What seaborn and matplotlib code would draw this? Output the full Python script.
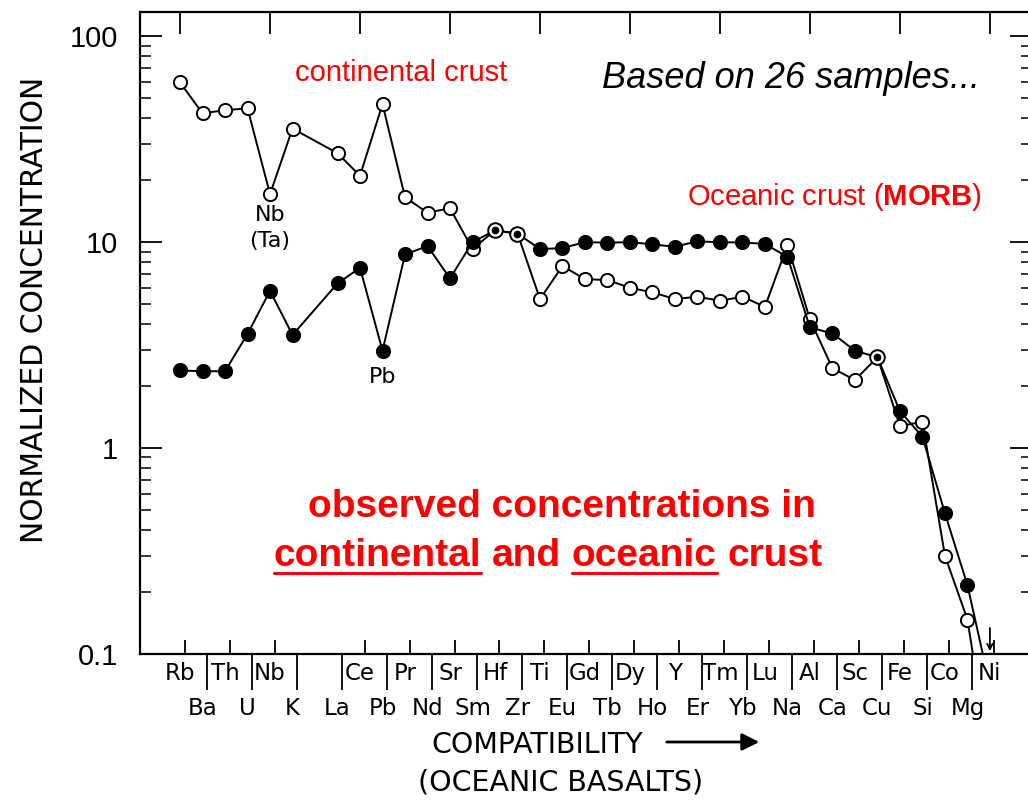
import numpy as np
import matplotlib
matplotlib.use("Agg")
import matplotlib.pyplot as plt
import seaborn as sns
from matplotlib.ticker import LogLocator, NullFormatter
from matplotlib.transforms import IdentityTransform
from matplotlib.lines import Line2D

# Element order along the compatibility axis; "" is the unused slot after K
slots = ["Rb", "Ba", "Th", "U", "Nb", "K", "", "La", "Ce", "Pb", "Pr", "Nd", "Sr",
         "Sm", "Hf", "Zr", "Ti", "Eu", "Gd", "Tb", "Dy", "Ho", "Y", "Er", "Tm", "Yb",
         "Lu", "Na", "Al", "Ca", "Sc", "Cu", "Fe", "Si", "Co", "Mg", "Ni"]
elements = [e for e in slots if e]

# Normalized concentrations, one value per element above
continental = [59.6, 42.2, 43.7, 44.6, 17.1, 35.6, 27.0, 21.0, 46.8, 16.5, 13.9, 14.6,
               9.25, 11.4, 11.0, 5.29, 7.65, 6.61, 6.54, 6.0, 5.70, 5.29, 5.43, 5.19,
               5.43, 4.85, 9.67, 4.21, 2.44, 2.14, 2.76, 1.28, 1.34, 0.30, 0.147, 0.03]
oceanic = [2.38, 2.36, 2.36, 3.58, 5.80, 3.54, 6.30, 7.50, 2.97, 8.71, 9.57, 6.66,
           10.0, 11.4, 11.0, 9.25, 9.35, 10.0, 9.93, 10.0, 9.75, 9.49, 10.1, 9.97,
           9.97, 9.79, 8.48, 3.85, 3.60, 2.97, 2.76, 1.51, 1.135, 0.482, 0.216, 0.07]

y_ticks = [0.1, 1, 10, 100]
y_tick_labels = ["0.1", "1", "10", "100"]

sns.set_style("ticks")
plt.rcParams["font.family"] = ["Liberation Sans", "DejaVu Sans"]
plt.rcParams["mathtext.fontset"] = "custom"
plt.rcParams["mathtext.rm"] = "Liberation Sans"
plt.rcParams["mathtext.bf"] = "Liberation Sans:bold"
for key in ("text.color", "axes.labelcolor", "xtick.color", "ytick.color",
            "axes.edgecolor"):
    plt.rcParams[key] = "black"
LETTERING = ["DejaVu Sans"]

W, H = 1028, 805
fig = plt.figure(figsize=(W / 100, H / 100), dpi=100)
ax = fig.add_axes([140 / W, 1 - 654 / H, 892 / W, 642 / H])


def fx(px):
    return px / W


def fy(py):
    return 1 - py / H


pos = np.array([slots.index(e) for e in elements])
cont = np.array(continental)
ocea = np.array(oceanic)

ax.set_yscale("log")
ax.set_ylim(0.1, 131)
ax.set_xlim(-1.78, 37.87)

line_kw = dict(color="black", linewidth=1.4, marker="o", markersize=9.5,
               markeredgecolor="black", markeredgewidth=1.4, legend=False)
sns.lineplot(x=pos, y=cont, ax=ax, markerfacecolor="white", zorder=3, **line_kw)
sns.lineplot(x=pos, y=ocea, ax=ax, markerfacecolor="black", zorder=4, **line_kw)

# Elements where both crusts share the same value: ring with a central dot
shared = np.isclose(cont, ocea)
ax.plot(pos[shared], cont[shared], "o", ms=10.5, mfc="white", mec="black",
        mew=1.4, zorder=5)
ax.plot(pos[shared], cont[shared], "o", ms=4.5, mfc="black", mec="black", zorder=6)

# Spines
for sp in ax.spines.values():
    sp.set_color("black")
    sp.set_linewidth(1.6)

# Y axis: log decades with inward ticks on both sides
ax.set_yticks(y_ticks, labels=y_tick_labels)
ax.yaxis.set_minor_locator(LogLocator(base=10, subs=np.arange(2, 10)))
ax.yaxis.set_minor_formatter(NullFormatter())
ax.tick_params(axis="y", which="major", direction="in", length=16, width=1.3,
               left=True, right=True, labelsize=21, pad=16, colors="black")
ax.tick_params(axis="y", which="minor", direction="in", length=8, width=1.1,
               left=True, right=True, colors="black")

# X axis: element names on two staggered rows
upper = [i for i in range(0, len(slots), 2)]
lower = [i for i in range(1, len(slots), 2)]
ax.set_xticks(upper, labels=[slots[i] for i in upper])
ax.set_xticks([i + 0.2 for i in upper if slots[i]], minor=True)
ax.tick_params(axis="x", which="major", length=0, pad=6, labelsize=16.5,
               top=False, bottom=True, colors="black")
ax.tick_params(axis="x", which="minor", direction="in", length=10, width=1.3,
               top=False, bottom=True, colors="black")
for lbl in ax.get_xticklabels():
    lbl.set_family(LETTERING)

sec_low = ax.secondary_xaxis("bottom")
sec_low.set_xticks(lower, labels=[slots[i] for i in lower])
sec_low.tick_params(length=0, pad=31, labelsize=16.5, colors="black")
sec_low.spines["bottom"].set_visible(False)
for lbl in sec_low.get_xticklabels():
    lbl.set_family(LETTERING)

sec_top = ax.secondary_xaxis("top")
top_ticks = list(range(0, len(slots), 4))
sec_top.set_xticks(top_ticks, labels=[""] * len(top_ticks))
sec_top.tick_params(direction="in", length=16, width=1.3, colors="black")
sec_top.spines["top"].set_visible(False)

# Separators between the upper-row names
ax.vlines([i + 0.2 for i in lower], 0, -0.056, transform=ax.get_xaxis_transform(),
          colors="black", linewidth=1.3, clip_on=False)

# Point labels
nb = elements.index("Nb")
ax.annotate("Nb\n(Ta)", xy=(pos[nb], cont[nb]), xytext=(0, -8),
            textcoords="offset points", ha="center", va="top", fontsize=16,
            linespacing=1.35, family=LETTERING)
pb = elements.index("Pb")
ax.annotate("Pb", xy=(pos[pb], ocea[pb]), xytext=(0, -12),
            textcoords="offset points", ha="center", va="top", fontsize=16,
            family=LETTERING)

# Values of Ni fall below the plotted range
ni = elements.index("Ni")
ax.annotate("", xy=(pos[ni], 0.1), xytext=(pos[ni], 0.138),
            arrowprops=dict(arrowstyle="->", lw=1.3, color="black"),
            annotation_clip=False)

# Axis titles
fig.text(fx(35), fy(310), "NORMALIZED CONCENTRATION", rotation=90, ha="center",
         va="center", fontsize=21.5, family=LETTERING)
fig.text(fx(537), fy(745), "COMPATIBILITY", ha="center", va="center",
         fontsize=20.5, family=LETTERING)
fig.text(fx(561), fy(782), "(OCEANIC BASALTS)", ha="center", va="center",
         fontsize=20.5, family=LETTERING)
ax.annotate("", xy=(fx(762), fy(742)), xytext=(fx(664), fy(742)),
            xycoords="figure fraction", textcoords="figure fraction",
            arrowprops=dict(arrowstyle="-|>", lw=2.0, color="black",
                            mutation_scale=26))

# Annotations in the plot area
fig.text(fx(401), fy(73), "continental crust", color="red", fontsize=21,
         ha="center", va="center")
fig.text(fx(791), fy(78), "Based on 26 samples...", color="black", fontsize=26,
         style="italic", ha="center", va="center")
fig.text(fx(834), fy(197), r"Oceanic crust ($\mathbf{MORB}$)", color="red",
         fontsize=21, ha="center", va="center")

bold_kw = dict(color="red", fontsize=28, fontweight="bold")
fig.text(fx(562), fy(517), "observed concentrations in", ha="center",
         va="baseline", **bold_kw)

# Second line: word by word so two of the words can be underlined
fig.canvas.draw()
renderer = fig.canvas.get_renderer()


def text_width(s):
    t = fig.text(0, 0, s, **bold_kw)
    w = t.get_window_extent(renderer=renderer).width
    t.remove()
    return w


words = ["continental", "and", "oceanic", "crust"]
underlined = [True, False, True, False]
space = text_width("n n") - text_width("nn")
widths = [text_width(w) for w in words]
total = sum(widths) + space * (len(words) - 1)
x0 = 548 - total / 2
base = H - 566
for word, wd, ul in zip(words, widths, underlined):
    fig.text(x0, base, word, transform=IdentityTransform(), ha="left",
             va="baseline", **bold_kw)
    if ul:
        fig.add_artist(Line2D([x0, x0 + wd], [base - 7, base - 7],
                              transform=IdentityTransform(), color="red",
                              linewidth=2.2))
    x0 += wd + space

fig.savefig("out.png", dpi=100)
